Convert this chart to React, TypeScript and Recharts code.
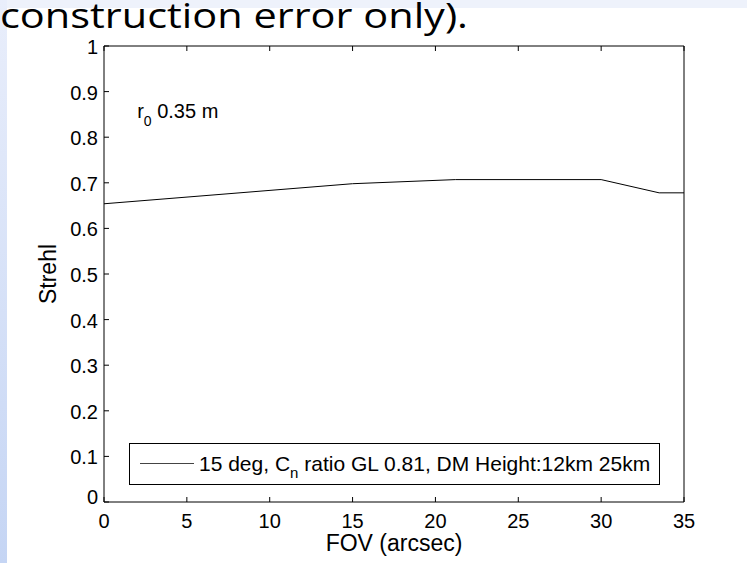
import React from "react";
import { LineChart, Line, XAxis, YAxis, Legend, ReferenceDot } from "recharts";

// Strehl vs field of view, r0 = 0.35 m
const fov = [0, 15, 21.2, 30, 33.5, 35];
const strehl = [0.654, 0.698, 0.707, 0.707, 0.678, 0.678];

const xTicks = [0, 5, 10, 15, 20, 25, 30, 35];
const yTicks = [0, 0.1, 0.2, 0.3, 0.4, 0.5, 0.6, 0.7, 0.8, 0.9, 1];

const seriesName = "15 deg, C";
const seriesRest = " ratio GL 0.81, DM Height:12km 25km";

const FONT = "'Liberation Sans', Arial, sans-serif";
const TICK_LEN = 5;

const data = fov.map((x, i) => ({ fov: x, strehl: strehl[i] }));

function BottomTick({ x, y, payload }: any) {
  return (
    <g>
      <line x1={x} x2={x} y1={y} y2={y - TICK_LEN} stroke="#000" />
      <text x={x} y={y + 26} textAnchor="middle" fontSize={20} fontFamily={FONT} fill="#000">
        {payload.value}
      </text>
    </g>
  );
}

function TopTick({ x, y }: any) {
  return <line x1={x} x2={x} y1={y} y2={y + TICK_LEN} stroke="#000" />;
}

function LeftTick({ x, y, payload }: any) {
  const dy = payload.value === 0 ? 2 : 8;
  return (
    <g>
      <line x1={x} x2={x + TICK_LEN} y1={y} y2={y} stroke="#000" />
      <text x={x - 6} y={y + dy} textAnchor="end" fontSize={20} fontFamily={FONT} fill="#000">
        {payload.value}
      </text>
    </g>
  );
}

function RightTick({ x, y }: any) {
  return <line x1={x} x2={x - TICK_LEN} y1={y} y2={y} stroke="#000" />;
}

function LegendBox() {
  return (
    <svg width={531} height={42} style={{ display: "block" }}>
      <rect x={0.5} y={0.5} width={530} height={41} fill="#fff" stroke="#000" />
      <line x1={11} x2={65} y1={20.5} y2={20.5} stroke="#444" />
      <text x={70} y={28} fontSize={21} fontFamily={FONT} fill="#000">
        {seriesName}
        <tspan dy={7} fontSize={15}>n</tspan>
        <tspan dy={-7}>{seriesRest}</tspan>
      </text>
    </svg>
  );
}

function R0Label({ viewBox }: any) {
  return (
    <text x={viewBox.x} y={viewBox.y + 4} fontSize={20} fontFamily={FONT} fill="#000">
      r
      <tspan dy={8} fontSize={14}>0</tspan>
      <tspan dy={-8}> 0.35 m</tspan>
    </text>
  );
}

export default function App() {
  return (
    <div
      style={{
        position: "absolute",
        left: 0,
        top: 0,
        width: 747,
        height: 563,
        background: "#fff",
        overflow: "hidden",
      }}
    >
      <div style={{ position: "absolute", left: 0, top: 0, width: 747, height: 8, background: "#eef2fb" }} />
      <div
        style={{
          position: "absolute",
          left: 0,
          top: 0,
          width: 7,
          height: 563,
          background: "linear-gradient(#e9eefb, #c5d5f4)",
        }}
      />
      <svg width={747} height={42} style={{ position: "absolute", left: 0, top: 0 }}>
        <text
          x={0}
          y={28}
          fontSize={35}
          fontFamily="'Open Sans', 'Noto Sans', sans-serif"
          textLength={468}
          lengthAdjust="spacingAndGlyphs"
          fill="#000"
        >
          construction error only).
        </text>
      </svg>
      <div style={{ position: "absolute", left: 0, top: 0 }}>
        <LineChart width={747} height={563} data={data} margin={{ top: 45, right: 62, bottom: 31, left: 44 }}>
          <XAxis
            dataKey="fov"
            type="number"
            domain={[0, 35]}
            ticks={xTicks}
            interval={0}
            height={30}
            tickSize={0}
            tickMargin={0}
            tickLine={false}
            axisLine={{ stroke: "#000" }}
            tick={<BottomTick />}
            label={{
              value: "FOV (arcsec)",
              content: ({ viewBox }: any) => (
                <text
                  x={viewBox.x + viewBox.width / 2}
                  y={viewBox.y + 49}
                  textAnchor="middle"
                  fontSize={23}
                  fontFamily={FONT}
                  fill="#000"
                >
                  FOV (arcsec)
                </text>
              ),
            }}
          />
          <XAxis
            xAxisId="top"
            orientation="top"
            dataKey="fov"
            type="number"
            domain={[0, 35]}
            ticks={xTicks}
            interval={0}
            height={1}
            tickSize={0}
            tickMargin={0}
            tickLine={false}
            axisLine={{ stroke: "#000" }}
            tick={<TopTick />}
          />
          <YAxis
            type="number"
            domain={[0, 1]}
            ticks={yTicks}
            interval={0}
            width={60}
            tickSize={0}
            tickMargin={0}
            tickLine={false}
            axisLine={{ stroke: "#000" }}
            tick={<LeftTick />}
            label={{
              value: "Strehl",
              content: ({ viewBox }: any) => {
                const cx = 56;
                const cy = viewBox.y + viewBox.height / 2;
                return (
                  <text
                    x={cx}
                    y={cy}
                    transform={`rotate(-90, ${cx}, ${cy})`}
                    textAnchor="middle"
                    fontSize={23}
                    fontFamily={FONT}
                    fill="#000"
                  >
                    Strehl
                  </text>
                );
              },
            }}
          />
          <YAxis
            yAxisId="right"
            orientation="right"
            type="number"
            domain={[0, 1]}
            ticks={yTicks}
            interval={0}
            width={1}
            tickSize={0}
            tickMargin={0}
            tickLine={false}
            axisLine={{ stroke: "#000" }}
            tick={<RightTick />}
          />
          <Legend
            layout="horizontal"
            verticalAlign="middle"
            align="center"
            content={() => <LegendBox />}
            wrapperStyle={{ position: "absolute", left: 129, top: 443, width: 531, height: 42 }}
          />
          <ReferenceDot x={2} y={0.85} r={0} fill="none" stroke="none" label={<R0Label />} />
          <Line
            type="linear"
            dataKey="strehl"
            stroke="#000"
            strokeWidth={1}
            dot={false}
            isAnimationActive={false}
          />
        </LineChart>
      </div>
    </div>
  );
}
